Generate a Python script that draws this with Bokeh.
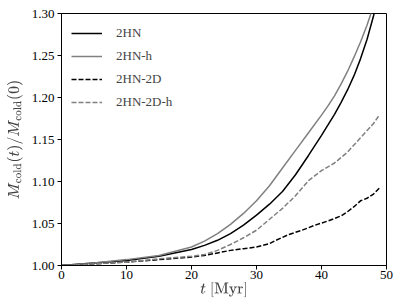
from bokeh.plotting import figure
from bokeh.models import Range1d, FixedTicker, Legend, LegendItem, NumeralTickFormatter
from bokeh.embed import file_html
from bokeh.resources import INLINE

# Data
t_2hn = [0, 5, 10, 15, 20, 22, 24, 26, 28, 30, 32, 34, 36, 38, 40, 42, 43, 44, 45, 46, 47, 48, 49]
m_2hn = [1.000, 1.003, 1.006, 1.011, 1.019, 1.024, 1.030, 1.038, 1.048, 1.060, 1.073,
         1.088, 1.108, 1.131, 1.155, 1.180, 1.194, 1.209, 1.226, 1.246, 1.269, 1.297, 1.328]

t_2hn_h = [0, 5, 10, 15, 20, 22, 24, 26, 28, 30, 32, 34, 36, 38, 40, 41, 42, 43, 44, 45, 46, 47, 48, 49]
m_2hn_h = [1.000, 1.003, 1.007, 1.012, 1.022, 1.029, 1.038, 1.049, 1.062, 1.077, 1.095,
           1.116, 1.137, 1.158, 1.179, 1.190, 1.202, 1.216, 1.231, 1.248, 1.266, 1.286, 1.309, 1.334]

t_2d = [0, 5, 10, 15, 20, 22, 24, 26, 28, 30, 32, 33, 35, 37, 39, 41, 43, 44, 45, 46, 47, 48, 49]
m_2d = [1.000, 1.002, 1.004, 1.007, 1.010, 1.012, 1.015, 1.018, 1.020, 1.022, 1.026, 1.030,
        1.037, 1.042, 1.048, 1.053, 1.059, 1.064, 1.070, 1.077, 1.080, 1.085, 1.093]

t_2d_h = [0, 5, 10, 15, 20, 22, 24, 26, 28, 30, 32, 34, 36, 38, 40, 42, 44, 46, 48, 48.8]
m_2d_h = [1.000, 1.002, 1.004, 1.008, 1.011, 1.013, 1.018, 1.025, 1.033, 1.042, 1.055,
          1.068, 1.083, 1.101, 1.113, 1.122, 1.135, 1.152, 1.169, 1.178]

x_ticks = [0, 10, 20, 30, 40, 50]
y_ticks = [1.00, 1.05, 1.10, 1.15, 1.20, 1.25, 1.30]
labels = ["2HN", "2HN-h", "2HN-2D", "2HN-2D-h"]

FONT = "Liberation Serif"

p = figure(width=407, height=305, output_backend="svg", toolbar_location=None,
           x_range=Range1d(0, 50), y_range=Range1d(1.0, 1.3),
           min_border_left=61, min_border_right=21, min_border_top=13, min_border_bottom=40)

p.background_fill_color = "white"
p.border_fill_color = "white"
p.outline_line_color = "black"
p.outline_line_width = 1
p.grid.visible = False

for ax in (p.xaxis, p.yaxis):
    ax.axis_line_color = "black"
    ax.major_tick_line_color = "black"
    ax.major_tick_out = 4
    ax.major_tick_in = 0
    ax.minor_tick_line_color = None
    ax.major_label_text_font = FONT
    ax.major_label_text_font_size = "13px"
    ax.major_label_text_color = "black"
    ax.axis_label_text_font = FONT
    ax.axis_label_text_font_size = "14px"
    ax.axis_label_text_font_style = "normal"

p.xaxis.ticker = FixedTicker(ticks=x_ticks)
p.yaxis.ticker = FixedTicker(ticks=y_ticks)
p.yaxis.formatter = NumeralTickFormatter(format="0.00")
p.xaxis.major_label_standoff = 1
p.yaxis.major_label_standoff = 3
p.xaxis.axis_label = r"$$t\ [\mathrm{Myr}]$$"
p.yaxis.axis_label = r"$$M_{\rm cold}(t)/M_{\rm cold}(0)$$"
p.xaxis.axis_label_standoff = 0
p.yaxis.axis_label_standoff = 6

r1 = p.line(t_2hn, m_2hn, line_color="black", line_width=1.5)
r2 = p.line(t_2hn_h, m_2hn_h, line_color="#808080", line_width=1.5)
r3 = p.line(t_2d, m_2d, line_color="black", line_width=1.5, line_dash="5 2")
r4 = p.line(t_2d_h, m_2d_h, line_color="#808080", line_width=1.5, line_dash="5 2")

legend = Legend(items=[LegendItem(label=l, renderers=[r]) for l, r in zip(labels, [r1, r2, r3, r4])],
                location="top_left")
legend.border_line_alpha = 0
legend.background_fill_alpha = 0
legend.label_text_font = FONT
legend.label_text_font_size = "13px"
legend.glyph_width = 31
legend.label_standoff = 14
legend.spacing = 3
legend.padding = 6
legend.margin = 4
p.add_layout(legend)

open("out.html", "w").write(file_html(p, INLINE))
